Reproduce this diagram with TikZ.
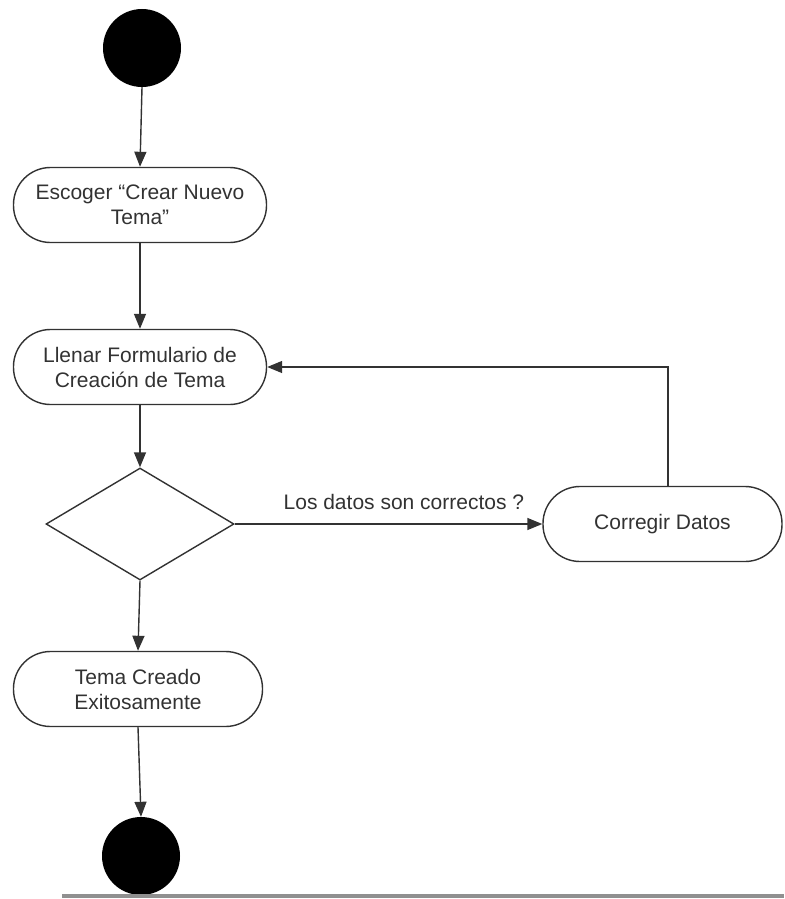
\documentclass[tikz,border=0pt]{standalone}
\usepackage{fontspec}
\setmainfont{Liberation Sans}
\usetikzlibrary{shapes.geometric,arrows.meta}
\definecolor{ink}{RGB}{50,50,50}
\definecolor{lg}{RGB}{144,144,144}
\begin{document}
\begin{tikzpicture}[x=1pt,y=-1pt,
  every node/.style={text=ink, font=\fontsize{21}{25}\selectfont},
  act/.style={draw=ink, line width=1.4pt, rounded corners=37pt, minimum width=253pt, minimum height=75pt, align=center, inner sep=0pt},
  dot/.style={circle, fill=black, minimum size=78pt, inner sep=0pt},
  dec/.style={diamond, draw=ink, line width=1.4pt, minimum width=188pt, minimum height=112pt, inner sep=0pt},
  arr/.style={-{Triangle[length=15pt,width=12pt]}, line width=1.4pt, draw=ink}]
\useasboundingbox (0,0) rectangle (784,899);
\node[dot] (s) at (142,48) {};
\node[act] (b1) at (140,205) {Escoger “Crear Nuevo\\Tema”};
\node[act] (b2) at (140,367) {Llenar Formulario de\\Creación de Tema};
\node[dec] (d) at (140,524) {};
\node[act, minimum width=239pt] (cd) at (662.5,524) {Corregir Datos};
\node[act, minimum width=249pt] (b4) at (138,689) {Tema Creado\\Exitosamente};
\node[dot] (e) at (141,856) {};
\draw[arr] (s.south) -- (b1.north);
\draw[arr] (b1.south) -- (b2.north);
\draw[arr] (b2.south) -- (d.north);
\draw[arr] (d.east) -- node[pos=0.55, above=10pt] (lbl) {Los datos son correctos ?} (cd.west);
\draw[arr] ([xshift=5.5pt]cd.north) |- (b2.east);
\draw[arr] (d.south) -- (b4.north);
\draw[arr] (b4.south) -- (e.north);
\coordinate (gl1) at (62,896);
\coordinate (gl2) at (784,896);
\draw[line width=4pt, lg] (gl1) -- (gl2);
\end{tikzpicture}
\end{document}
